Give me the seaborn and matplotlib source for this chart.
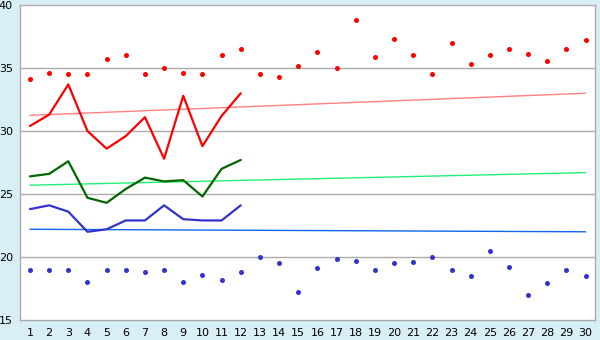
import matplotlib
matplotlib.use("Agg")
import matplotlib.pyplot as plt
import seaborn as sns
import pandas as pd

days = list(range(1, 31))
days_line = list(range(1, 13))

high_points = [34.1, 34.6, 34.5, 34.5, 35.7, 36.0, 34.5, 35.0, 34.6, 34.5,
               36.0, 36.5, 34.5, 34.3, 35.2, 36.3, 35.0, 38.8, 35.9, 37.3,
               36.0, 34.5, 37.0, 35.3, 36.0, 36.5, 36.1, 35.6, 36.5, 37.2]
low_points = [19.0, 19.0, 19.0, 18.0, 19.0, 19.0, 18.8, 19.0, 18.0, 18.6,
              18.2, 18.8, 20.0, 19.5, 17.2, 19.1, 19.8, 19.7, 19.0, 19.5,
              19.6, 20.0, 19.0, 18.5, 20.5, 19.2, 17.0, 17.9, 19.0, 18.5]

high_line = [30.4, 31.3, 33.7, 30.0, 28.6, 29.6, 31.1, 27.8, 32.8, 28.8, 31.2, 33.0]
mid_line = [26.4, 26.6, 27.6, 24.7, 24.3, 25.4, 26.3, 26.0, 26.1, 24.8, 27.0, 27.7]
low_line = [23.8, 24.1, 23.6, 22.0, 22.2, 22.9, 22.9, 24.1, 23.0, 22.9, 22.9, 24.1]

trend_x = [1, 30]
high_trend = [31.25, 33.0]
mid_trend = [25.7, 26.7]
low_trend = [22.2, 22.0]

sns.set_style("white")
plt.rcParams['font.family'] = ['DejaVu Sans']

fig = plt.figure(figsize=(6, 3.4), dpi=100, facecolor='#D9EFF6')
ax = fig.add_axes([0.034, 0.059, 0.958, 0.926])
ax.set_facecolor('white')

for y in [20, 25, 30, 35]:
    ax.axhline(y, color='#AAAAAA', lw=1, zorder=0)

sns.lineplot(x=trend_x, y=high_trend, ax=ax, color='#FF8080', lw=1)
sns.lineplot(x=trend_x, y=mid_trend, ax=ax, color='#22EE77', lw=1)
sns.lineplot(x=trend_x, y=low_trend, ax=ax, color='#1166EE', lw=1)

sns.lineplot(x=days_line, y=high_line, ax=ax, color='#FF0000', lw=1.6)
sns.lineplot(x=days_line, y=mid_line, ax=ax, color='#006600', lw=1.6)
sns.lineplot(x=days_line, y=low_line, ax=ax, color='#3333CC', lw=1.6)

sns.scatterplot(x=days, y=high_points, ax=ax, color='#FF0000', marker='o', s=13, linewidth=0)
sns.scatterplot(x=days, y=low_points, ax=ax, color='#3333CC', marker='o', s=13, linewidth=0)

ax.set_xlim(0.5, 30.5)
ax.set_ylim(15, 40)
ax.set_xticks(days)
ax.set_xticklabels([str(d) for d in days])
ax.set_yticks([15, 20, 25, 30, 35, 40])
ax.tick_params(axis='both', labelsize=8, length=4, width=1, pad=1.5, colors='black')
ax.tick_params(axis='both', color='#444444')
for s in ax.spines.values():
    s.set_color('#AAAAAA')
    s.set_linewidth(1)

fig.savefig('out.png', dpi=100, facecolor=fig.get_facecolor())
